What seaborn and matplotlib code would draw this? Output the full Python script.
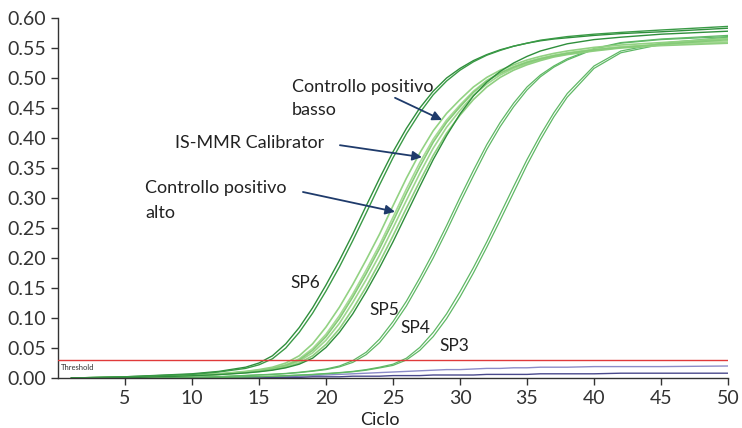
import matplotlib
matplotlib.use("Agg")
import matplotlib.pyplot as plt
import seaborn as sns
import pandas as pd

# ---------------- data ----------------
cycles = [1, 5, 10, 12, 14, 15, 16, 17, 18, 19, 20, 21, 22, 23, 24, 25, 26, 27,
          28, 29, 30, 31, 32, 33, 34, 35, 36, 37, 38, 40, 42, 45, 50]

sp6_a = [0.000, 0.002, 0.007, 0.011, 0.018, 0.025, 0.037, 0.057, 0.084, 0.117, 0.155, 0.196,
         0.240, 0.287, 0.333, 0.377, 0.416, 0.450, 0.478, 0.500, 0.516, 0.529, 0.539, 0.547,
         0.553, 0.558, 0.562, 0.565, 0.567, 0.571, 0.574, 0.577, 0.583]
sp6_b = [0.000, 0.002, 0.006, 0.010, 0.016, 0.022, 0.032, 0.050, 0.076, 0.108, 0.145, 0.185,
         0.229, 0.275, 0.322, 0.367, 0.407, 0.442, 0.472, 0.495, 0.513, 0.527, 0.538, 0.546,
         0.553, 0.558, 0.563, 0.566, 0.569, 0.573, 0.576, 0.580, 0.586]

ctrl_alto = [0.000, 0.001, 0.005, 0.007, 0.011, 0.014, 0.018, 0.025, 0.037, 0.057, 0.085, 0.118,
             0.156, 0.197, 0.240, 0.287, 0.333, 0.375, 0.412, 0.441, 0.464, 0.485, 0.501, 0.513,
             0.522, 0.530, 0.536, 0.541, 0.545, 0.551, 0.555, 0.559, 0.566]
calib_a = [0.000, 0.001, 0.0045, 0.0065, 0.0105, 0.013, 0.0165, 0.022, 0.032, 0.049, 0.073, 0.104,
           0.140, 0.180, 0.222, 0.268, 0.315, 0.359, 0.398, 0.430, 0.455, 0.478, 0.496, 0.509,
           0.519, 0.527, 0.533, 0.538, 0.542, 0.548, 0.552, 0.556, 0.562]
calib_b = [0.000, 0.001, 0.0045, 0.0065, 0.010, 0.0125, 0.016, 0.021, 0.030, 0.046, 0.069, 0.099,
           0.135, 0.174, 0.216, 0.261, 0.308, 0.352, 0.393, 0.426, 0.452, 0.476, 0.495, 0.508,
           0.518, 0.526, 0.532, 0.537, 0.541, 0.547, 0.551, 0.556, 0.564]
ctrl_basso_a = [0.000, 0.001, 0.004, 0.006, 0.010, 0.012, 0.015, 0.020, 0.028, 0.042, 0.063, 0.091,
                0.126, 0.164, 0.205, 0.250, 0.296, 0.341, 0.383, 0.418, 0.446, 0.471, 0.490, 0.505,
                0.516, 0.524, 0.531, 0.536, 0.540, 0.546, 0.551, 0.555, 0.560]
ctrl_basso_b = [0.000, 0.001, 0.004, 0.006, 0.009, 0.011, 0.014, 0.018, 0.025, 0.037, 0.056, 0.082,
                0.115, 0.152, 0.193, 0.237, 0.283, 0.328, 0.371, 0.408, 0.438, 0.464, 0.485, 0.501,
                0.513, 0.522, 0.529, 0.535, 0.539, 0.545, 0.550, 0.554, 0.558]

sp5 = [0.000, 0.0004, 0.0037, 0.0057, 0.0084, 0.0104, 0.013, 0.017, 0.023, 0.033, 0.051, 0.076,
       0.107, 0.144, 0.184, 0.227, 0.273, 0.319, 0.364, 0.404, 0.440, 0.470, 0.493, 0.511,
       0.525, 0.536, 0.545, 0.551, 0.557, 0.564, 0.568, 0.573, 0.578]

sp4_a = [0.000, 0.000, 0.0012, 0.0023, 0.0043, 0.0053, 0.0063, 0.0076, 0.0096, 0.012, 0.015, 0.020,
         0.029, 0.043, 0.065, 0.094, 0.128, 0.167, 0.209, 0.254, 0.301, 0.346, 0.389, 0.426,
         0.458, 0.485, 0.505, 0.520, 0.532, 0.549, 0.559, 0.565, 0.571]
sp4_b = [0.000, 0.000, 0.0011, 0.0021, 0.0040, 0.0050, 0.0060, 0.0072, 0.0090, 0.0113, 0.014, 0.0185,
         0.026, 0.039, 0.059, 0.087, 0.120, 0.159, 0.200, 0.245, 0.292, 0.337, 0.381, 0.419,
         0.452, 0.480, 0.502, 0.518, 0.530, 0.548, 0.558, 0.564, 0.569]

sp3_a = [0.000, 0.000, 0.0005, 0.001, 0.002, 0.0025, 0.003, 0.004, 0.005, 0.006, 0.0075, 0.009,
         0.011, 0.014, 0.018, 0.023, 0.033, 0.051, 0.076, 0.107, 0.144, 0.184, 0.227, 0.273,
         0.319, 0.364, 0.405, 0.442, 0.474, 0.520, 0.545, 0.558, 0.568]
sp3_b = [0.000, 0.000, 0.0005, 0.001, 0.0018, 0.0023, 0.0028, 0.0037, 0.0046, 0.0056, 0.007, 0.0085,
         0.0104, 0.013, 0.0168, 0.021, 0.030, 0.046, 0.069, 0.099, 0.135, 0.175, 0.218, 0.263,
         0.309, 0.355, 0.397, 0.435, 0.468, 0.516, 0.542, 0.556, 0.566]

neg_a = [0.000, 0.000, 0.000, 0.000, 0.001, 0.001, 0.002, 0.002, 0.003, 0.004, 0.005, 0.006,
         0.007, 0.008, 0.009, 0.010, 0.011, 0.012, 0.013, 0.014, 0.014, 0.015, 0.016, 0.016,
         0.017, 0.017, 0.018, 0.018, 0.018, 0.019, 0.019, 0.019, 0.020]
neg_b = [0.000, 0.000, 0.000, 0.000, 0.000, 0.000, 0.001, 0.001, 0.001, 0.002, 0.002, 0.002,
         0.003, 0.003, 0.003, 0.004, 0.004, 0.004, 0.005, 0.005, 0.005, 0.005, 0.006, 0.006,
         0.006, 0.006, 0.007, 0.007, 0.007, 0.007, 0.008, 0.008, 0.008]

threshold = 0.03

x_ticks = [5, 10, 15, 20, 25, 30, 35, 40, 45, 50]
y_ticks = [0.00, 0.05, 0.10, 0.15, 0.20, 0.25, 0.30, 0.35, 0.40, 0.45, 0.50, 0.55, 0.60]

series = [
    ("neg_a", neg_a, "#8c8cc8", 1.0),
    ("neg_b", neg_b, "#4a4a8c", 1.0),
    ("sp3_a", sp3_a, "#5fb865", 0.9),
    ("sp3_b", sp3_b, "#5fb865", 0.9),
    ("sp4_a", sp4_a, "#5fb865", 0.9),
    ("sp4_b", sp4_b, "#5fb865", 0.9),
    ("ctrl_basso_a", ctrl_basso_a, "#9fd68f", 1.2),
    ("ctrl_basso_b", ctrl_basso_b, "#8fcf80", 1.2),
    ("calib_a", calib_a, "#a6da95", 1.2),
    ("calib_b", calib_b, "#86cb78", 1.2),
    ("ctrl_alto", ctrl_alto, "#93d283", 1.2),
    ("sp5", sp5, "#2f8f3c", 1.0),
    ("sp6_a", sp6_a, "#2f8f3c", 1.0),
    ("sp6_b", sp6_b, "#3a9a46", 1.0),
]

# ---------------- figure ----------------
sns.set_theme(style="ticks")
plt.rcParams["font.family"] = ["Lato", "DejaVu Sans"]

fig = plt.figure(figsize=(7.42, 4.28), dpi=100)
ax = fig.add_axes([58 / 742, 50 / 428, 670 / 742, 360 / 428])

for name, vals, col, lw in series:
    df = pd.DataFrame({"Ciclo": cycles, "val": vals})
    sns.lineplot(data=df, x="Ciclo", y="val", color=col, lw=lw, ax=ax,
                 estimator=None, legend=False)

ax.axhline(threshold, color="#e03a3a", lw=1.0, zorder=5)
ax.text(0.25, 0.0167, "Threshold", fontsize=5.5, color="#333333", va="center", ha="left")

ax.set_xlim(0, 50)
ax.set_ylim(0, 0.60)
ax.set_xticks(x_ticks)
ax.set_yticks(y_ticks)
ax.set_yticklabels([f"{v:.2f}" for v in y_ticks])
ax.tick_params(axis="both", labelsize=14, colors="#333333", length=5, width=1, pad=3.5)
for s in ["top", "right"]:
    ax.spines[s].set_visible(False)
for s in ["left", "bottom"]:
    ax.spines[s].set_color("#333333")
    ax.spines[s].set_linewidth(1.0)

ax.set_ylabel("")
ax.set_xlabel("Ciclo", fontsize=13, color="#222222")
ax.xaxis.set_label_coords((380 - 58) / 670, -(420 - 378) / 360)
ax.xaxis.label.set_va("center")

# labels for curves
txt_kw = dict(fontsize=12.5, color="#222222", ha="center", va="center")
ax.text(18.43, 0.158, "SP6", **txt_kw)
ax.text(24.33, 0.113, "SP5", **txt_kw)
ax.text(26.7, 0.083, "SP4", **txt_kw)
ax.text(29.55, 0.053, "SP3", **txt_kw)

ann_kw = dict(fontsize=13, color="#222222", ha="left", va="center")
ax.text(17.46, 0.485, "Controllo positivo", **ann_kw)
ax.text(17.46, 0.447, "basso", **ann_kw)
ax.text(8.73, 0.392, "IS-MMR Calibrator", **ann_kw)
ax.text(6.49, 0.317, "Controllo positivo", **ann_kw)
ax.text(6.49, 0.275, "alto", **ann_kw)

arrow = dict(arrowstyle="-|>", color="#1f3b6b", lw=1.3, mutation_scale=14,
             shrinkA=0, shrinkB=0)
ax.annotate("", xy=(28.66, 0.430), xytext=(25.15, 0.467), arrowprops=arrow)
ax.annotate("", xy=(27.16, 0.368), xytext=(21.04, 0.388), arrowprops=arrow)
ax.annotate("", xy=(25.15, 0.277), xytext=(18.28, 0.310), arrowprops=arrow)

fig.savefig("out.png", dpi=100)
